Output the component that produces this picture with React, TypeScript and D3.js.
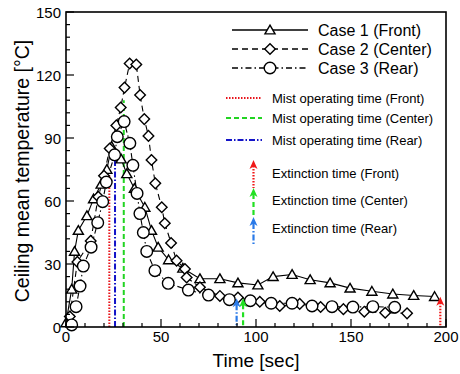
import * as d3 from "d3";

// Case 1 (Front), triangles, solid line  [time s, temperature °C]
const case1 = [
  [0, 2], [3, 18], [4.5, 36], [6.5, 46], [11, 53], [14.5, 61], [18.5, 68], [21.5, 75],
  [24, 86], [29, 80], [32, 73], [36, 66], [41.5, 57], [45, 46], [48.5, 38], [54, 32],
  [61.5, 28], [70.5, 23], [81, 23], [90.5, 21], [101, 20], [109, 24], [119, 25],
  [128.5, 22.5], [139, 21], [149.5, 18.5], [161, 17], [172, 15.7], [183, 15], [194, 14.5],
];

// Case 2 (Center), diamonds, dashed line
const case2 = [
  [2, 5], [6, 31], [13, 41], [17, 62], [20, 72], [23, 85], [26.5, 96], [28.8, 104.5],
  [30.8, 114], [33.5, 125.5], [37, 125], [39, 110.5], [41.2, 99], [43.4, 91], [45, 79.5],
  [47, 68.4], [50.4, 57], [52, 49.4], [55.3, 40], [58.2, 31.6], [62.6, 27.6], [63.5, 23.6],
  [70.5, 18.9], [81, 14.8], [90.5, 14], [102, 12], [112.5, 10], [123, 11], [134, 9.5],
  [146, 8.5], [157, 7.3], [168, 6.8], [179.5, 6.5],
];

// Case 3 (Rear), circles, dash-dot line
const case3 = [
  [3, 1], [5.3, 9.7], [7.4, 19.5], [9.1, 29], [13.2, 38], [16.7, 49.7], [19.3, 59.7],
  [21.2, 69], [25.6, 82], [27, 90.6], [30.6, 97.8], [33.6, 87.5], [35.2, 77], [37.4, 63.6],
  [38.9, 54], [40.7, 45], [42.5, 36], [46.8, 26.8], [53.8, 20.8], [64.4, 17.6], [75, 15.2],
  [86, 13], [97, 12.5], [108, 11.3], [119, 11.3], [129.5, 10], [140, 9.7], [151, 9.5],
  [161.5, 9.7], [173, 9.4],
];

// mist operating times: [time, top of the marker line]
const mistTimes = [
  { name: "Front", t: 22.8, top: 74, color: "#e8141b", dash: "1.5,1.5" },
  { name: "Center", t: 30.4, top: 108, color: "#22d422", dash: "5,3" },
  { name: "Rear", t: 25.8, top: 86, color: "#1414c8", dash: "6,2,1.5,2" },
];

// extinction times: [time, arrow tip temperature]
const extinctionTimes = [
  { name: "Front", t: 197, tip: 14.4, color: "#f01818", dash: "1.5,1.5" },
  { name: "Center", t: 93.2, tip: 13.7, color: "#22e022", dash: "5,3" },
  { name: "Rear", t: 89.8, tip: 13.7, color: "#2a7ae8", dash: "6,2,1.5,2" },
];

const xTicks = [0, 50, 100, 150, 200];
const yTicks = [0, 30, 60, 90, 120, 150];

const font = "'Liberation Sans', Arial, sans-serif";

function Marker({ kind, x, y }) {
  if (kind === "tri") {
    const p = d3.symbol(d3.symbolTriangle, 44)();
    return <path d={p} transform={`translate(${x},${y + 1})`} fill="white" stroke="black" strokeWidth={1.4} />;
  }
  if (kind === "dia") {
    const p = d3.symbol(d3.symbolSquare, 56)();
    return <path d={p} transform={`translate(${x},${y}) rotate(45)`} fill="white" stroke="black" strokeWidth={1.4} />;
  }
  return <circle cx={x} cy={y} r={5.8} fill="white" stroke="black" strokeWidth={1.4} />;
}

function Arrow({ x, y1, y2, color, dash }) {
  // y1 = tip, y2 = tail
  const head = `M${x},${y1} L${x + 4},${y1 + 9} L${x},${y1 + 6.5} L${x - 4},${y1 + 9} Z`;
  return (
    <g>
      <line x1={x} x2={x} y1={y1 + 6} y2={y2} stroke={color} strokeWidth={2.2} strokeDasharray={dash} />
      <path d={head} fill={color} />
    </g>
  );
}

export default function App() {
  const width = 460;
  const height = 374;
  const left = 66, right = 446, top = 12, bottom = 327;

  const x = d3.scaleLinear().domain([0, 200]).range([left, right]);
  const y = d3.scaleLinear().domain([0, 150]).range([bottom, top]);

  const line = d3.line().x(d => x(d[0])).y(d => y(d[1]));

  const xMinor = d3.range(0, 201, 10);
  const yMinor = d3.range(0, 151, 6);

  const series = [
    { data: case1, kind: "tri", dash: null, label: "Case 1 (Front)" },
    { data: case2, kind: "dia", dash: "6,4", label: "Case 2 (Center)" },
    { data: case3, kind: "circ", dash: "6,3,1.5,3", label: "Case 3 (Rear)" },
  ];

  return (
    <svg width={width} height={height} style={{ position: "absolute", left: 0, top: 0, background: "white" }}>
      {/* mist operating lines */}
      {mistTimes.map(m => (
        <line key={m.name} x1={x(m.t)} x2={x(m.t)} y1={y(0)} y2={y(m.top)}
          stroke={m.color} strokeWidth={2} strokeDasharray={m.dash} />
      ))}

      {/* data lines */}
      {series.map(s => (
        <path key={s.label} d={line(s.data)} fill="none" stroke="black" strokeWidth={1.1}
          strokeDasharray={s.dash || undefined} />
      ))}
      {series.map(s => s.data.map((d, i) => (
        <Marker key={s.label + i} kind={s.kind} x={x(d[0])} y={y(d[1])} />
      )))}

      {/* extinction arrows */}
      {extinctionTimes.map(e => (
        <Arrow key={e.name} x={x(e.t)} y1={y(e.tip)} y2={y(0)} color={e.color} dash={e.dash} />
      ))}

      {/* frame */}
      <rect x={left} y={top} width={right - left} height={bottom - top} fill="none" stroke="black" strokeWidth={1.6} />

      {/* ticks */}
      {xMinor.map(t => (
        <line key={"xm" + t} x1={x(t)} x2={x(t)} y1={bottom} y2={bottom - (t % 50 === 0 ? 8 : 4)} stroke="black" strokeWidth={1.2} />
      ))}
      {yMinor.map(t => (
        <line key={"ym" + t} x1={left} x2={left + (t % 30 === 0 ? 8 : 4)} y1={y(t)} y2={y(t)} stroke="black" strokeWidth={1.2} />
      ))}
      {xTicks.map(t => (
        <text key={"xt" + t} x={x(t)} y={342} textAnchor="middle" fontFamily={font} fontSize={15}>{t}</text>
      ))}
      {yTicks.map(t => (
        <text key={"yt" + t} x={61} y={y(t) + 5.5} textAnchor="end" fontFamily={font} fontSize={15}>{t}</text>
      ))}

      <text x={256} y={367} textAnchor="middle" fontFamily={font} fontSize={19}>Time [sec]</text>
      <text transform="translate(29,171) rotate(-90)" textAnchor="middle" fontFamily={font} fontSize={19.5}>
        Ceiling mean temperature [°C]
      </text>

      {/* legend: cases */}
      {series.map((s, i) => {
        const ly = [30, 49, 68][i];
        return (
          <g key={"lg" + i}>
            <line x1={232} x2={308} y1={ly} y2={ly} stroke="black" strokeWidth={1.6} strokeDasharray={s.dash || undefined} />
            <Marker kind={s.kind} x={270} y={ly} />
            <text x={318} y={ly + 6} fontFamily={font} fontSize={16}>{s.label}</text>
          </g>
        );
      })}

      {/* legend: mist */}
      {mistTimes.map((m, i) => {
        const ly = [98, 118, 140][i];
        return (
          <g key={"lm" + i}>
            <line x1={226} x2={262} y1={ly} y2={ly} stroke={m.color} strokeWidth={2} strokeDasharray={m.dash} />
            <text x={272} y={ly + 4.5} fontFamily={font} fontSize={13}>Mist operating time ({m.name})</text>
          </g>
        );
      })}

      {/* legend: extinction */}
      {extinctionTimes.map((e, i) => {
        const ty = [178, 205, 232.5][i];
        const ay = [160, 188, 217][i];
        return (
          <g key={"le" + i}>
            <Arrow x={253.5} y1={ay} y2={ay + 28} color={e.color} dash={e.dash} />
            <text x={272} y={ty} fontFamily={font} fontSize={13}>Extinction time ({e.name})</text>
          </g>
        );
      })}
    </svg>
  );
}
